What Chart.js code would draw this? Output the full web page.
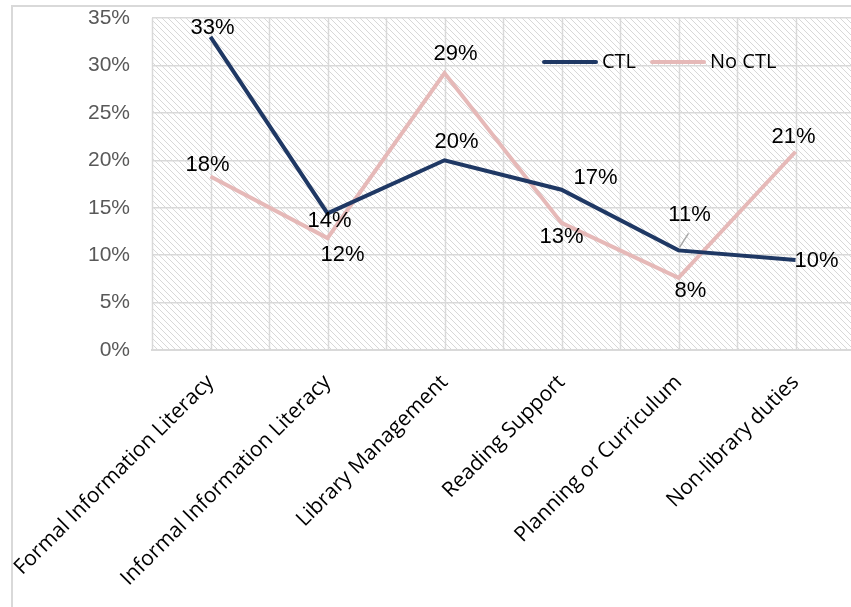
<!doctype html>
<html lang="en">
  <head>
    <meta charset="utf-8">
    <title>CTL vs No CTL</title>
    <style>
      html, body { margin: 0; padding: 0; overflow: hidden; background: #fff; }
      #frame { position: absolute; left: 11px; top: 5px; width: 900px; height: 700px;
               border-left: 2px solid #d9d9d9; border-top: 2px solid #d9d9d9; }
      #wrap { position: absolute; left: 0; top: 0; width: 860px; height: 607px; }
    </style>
  </head>
  <body>
    <div id="frame"></div>
    <div id="wrap"><canvas id="add_chart" width="860" height="607"></canvas></div>

    <script src="https://cdn.jsdelivr.net/npm/chart.js"></script>

    <script>
        // values (percent)
        const categories = ['Formal Information Literacy', 'Informal Information Literacy', 'Library Management',
                            'Reading Support', 'Planning or Curriculum', 'Non-library duties'];
        const ctlValues = [33, 14.4, 20, 16.9, 10.5, 9.5];
        const noCtlValues = [18.3, 11.8, 29.2, 13.4, 7.6, 20.9];
        const yTickValues = [0, 5, 10, 15, 20, 25, 30, 35];
        const seriesNames = ['CTL', 'No CTL'];

        // where each data label sits relative to its point (dx, dy)
        const ctlLabelOffsets = [[2, -9], [2, 8], [12, -18], [34, -12], [11, -35], [21, 1]];
        const noCtlLabelOffsets = [[-3, -11], [15, 17], [11, -19], [0, 14], [12, 13], [-2, -15]];

        const CTL_COLOR = '#1f3864';
        const NOCTL_COLOR = '#e6b9b8';
        const GRID = '#d9d9d9';

        function hatchPattern(ctx) {
            var p = document.createElement('canvas');
            p.width = 6; p.height = 6;
            var pc = p.getContext('2d');
            pc.fillStyle = '#fff';
            pc.fillRect(0, 0, 6, 6);
            pc.fillStyle = '#d8d8d8';
            for (var i = 0; i < 6; i++) pc.fillRect(i, i, 1, 1);
            return ctx.createPattern(p, 'repeat');
        }

        const backgroundPlugin = {
            id: 'hatchBg',
            beforeDraw(chart) {
                const {ctx, chartArea: a} = chart;
                ctx.save();
                ctx.fillStyle = hatchPattern(ctx);
                ctx.fillRect(a.left, a.top, a.right - a.left, a.bottom - a.top);
                // vertical lines at each category and halfway between
                ctx.strokeStyle = GRID;
                ctx.lineWidth = 1.5;
                const n = categories.length * 2;
                for (let k = 0; k <= n; k++) {
                    const x = Math.round(a.left + k * (a.right - a.left) / n) + 0.5;
                    ctx.beginPath();
                    ctx.moveTo(x, a.top);
                    ctx.lineTo(x, a.bottom);
                    ctx.stroke();
                }
                ctx.restore();
            }
        };

        const labelPlugin = {
            id: 'pointLabels',
            afterDatasetsDraw(chart) {
                const ctx = chart.ctx;
                ctx.save();
                ctx.font = '22px "Liberation Sans", Arial, sans-serif';
                ctx.fillStyle = '#000';
                ctx.textAlign = 'center';
                ctx.textBaseline = 'middle';
                chart.data.datasets.forEach(function(ds, di) {
                    const meta = chart.getDatasetMeta(di);
                    meta.data.forEach(function(pt, i) {
                        const off = ds.labelOffsets[i];
                        if (ds.leader && ds.leader[i]) {
                            ctx.save();
                            ctx.strokeStyle = '#a6a6a6';
                            ctx.lineWidth = 1.5;
                            ctx.beginPath();
                            ctx.moveTo(pt.x + 1, pt.y - 3);
                            ctx.lineTo(pt.x + 10, pt.y - 17);
                            ctx.stroke();
                            ctx.restore();
                        }
                        ctx.fillText(Math.round(ds.data[i]) + '%', pt.x + off[0], pt.y + off[1]);
                    });
                });
                ctx.restore();
            }
        };

        const legendPlugin = {
            id: 'insideLegend',
            afterDraw(chart) {
                const {ctx, chartArea: a} = chart;
                ctx.save();
                ctx.font = '20px "Open Sans", Calibri, sans-serif';
                ctx.textBaseline = 'middle';
                ctx.textAlign = 'left';
                ctx.lineWidth = 4;
                ctx.lineCap = 'round';
                let x = a.left + 392;
                const y = a.top + 44;
                chart.data.datasets.forEach(function(ds) {
                    ctx.strokeStyle = ds.borderColor;
                    ctx.beginPath();
                    ctx.moveTo(x, y);
                    ctx.lineTo(x + 52, y);
                    ctx.stroke();
                    ctx.fillStyle = '#000';
                    ctx.fillText(ds.label, x + 58, y);
                    x += 58 + ctx.measureText(ds.label).width + 16;
                });
                ctx.restore();
            }
        };

        function create_chart() {
            var ctx = document.getElementById('add_chart');

            var chartData = {
                labels: categories,
                datasets: [{
                    label: seriesNames[0],
                    data: ctlValues,
                    borderColor: CTL_COLOR,
                    backgroundColor: CTL_COLOR,
                    labelOffsets: ctlLabelOffsets,
                    leader: [false, false, false, false, true, false]
                }, {
                    label: seriesNames[1],
                    data: noCtlValues,
                    borderColor: NOCTL_COLOR,
                    backgroundColor: NOCTL_COLOR,
                    labelOffsets: noCtlLabelOffsets
                }]
            };

            new Chart(ctx, {
                type: 'line',
                data: chartData,
                plugins: [backgroundPlugin, labelPlugin, legendPlugin],
                options: {
                    responsive: false,
                    animation: false,
                    events: [],
                    layout: { padding: { left: 12, top: 18, right: 6, bottom: 0 } },
                    elements: {
                        line: { borderWidth: 4, tension: 0, borderJoinStyle: 'miter', borderCapStyle: 'butt' },
                        point: { radius: 0 }
                    },
                    plugins: {
                        legend: { display: false },
                        tooltip: { enabled: false }
                    },
                    scales: {
                        x: {
                            type: 'category',
                            offset: true,
                            grid: { display: false },
                            border: { display: true, color: GRID, width: 2 },
                            ticks: {
                                minRotation: 45,
                                maxRotation: 45,
                                autoSkip: false,
                                padding: 12,
                                color: '#000',
                                font: { family: '"Open Sans", Calibri, sans-serif', size: 21 }
                            },
                            afterFit: function(scale) {
                                scale.height = 257;
                                scale.paddingLeft = 0;
                            }
                        },
                        y: {
                            min: 0,
                            max: 35,
                            afterBuildTicks: function(scale) {
                                scale.ticks = yTickValues.map(function(v) { return {value: v}; });
                            },
                            grid: { color: GRID, lineWidth: 1.5, drawTicks: true, tickLength: 20, tickColor: 'rgba(0,0,0,0)' },
                            border: { display: false },
                            ticks: {
                                padding: 2,
                                color: '#595959',
                                font: { family: '"Liberation Sans", Arial, sans-serif', size: 21 },
                                callback: function(v) { return v + '%'; }
                            },
                            afterFit: function(scale) { scale.width = 140; }
                        }
                    }
                }
            });
        }

        create_chart();
    </script>
  </body>
</html>
